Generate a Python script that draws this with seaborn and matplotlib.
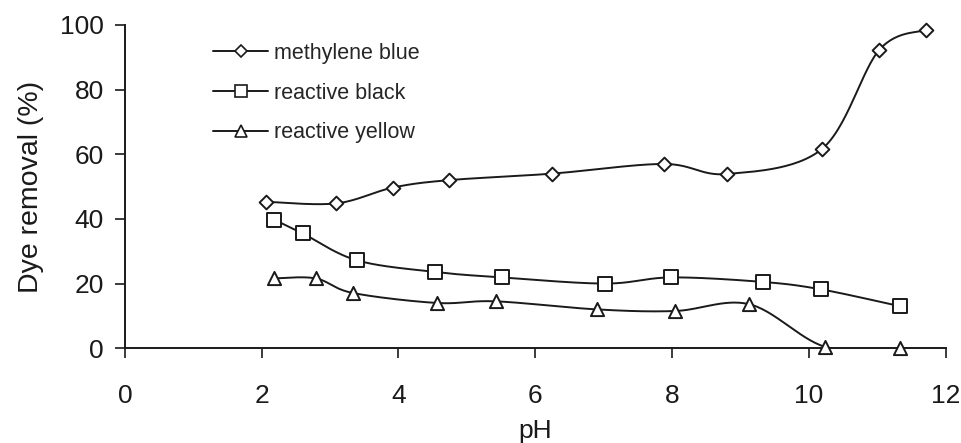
import numpy as np
import pandas as pd
import matplotlib
matplotlib.use("Agg")
import matplotlib.pyplot as plt
from matplotlib.lines import Line2D
import seaborn as sns

# Dye removal versus pH for three dyes
ph_mb = [2.06, 3.09, 3.92, 4.74, 6.24, 7.88, 8.81, 10.19, 11.03, 11.72]
removal_mb = [45.3, 44.8, 49.7, 52.0, 54.0, 57.0, 53.9, 61.6, 92.3, 98.5]

ph_rb = [2.18, 2.60, 3.39, 4.53, 5.51, 7.02, 7.99, 9.33, 10.18, 11.33]
removal_rb = [39.8, 35.5, 27.2, 23.6, 21.9, 20.0, 21.9, 20.5, 18.2, 13.0]

ph_ry = [2.18, 2.79, 3.33, 4.56, 5.42, 6.90, 8.04, 9.13, 10.24, 11.33]
removal_ry = [21.6, 21.6, 17.1, 14.0, 14.5, 12.0, 11.5, 13.6, 0.4, 0.0]

series_names = ["methylene blue", "reactive black", "reactive yellow"]
series_markers = ["D", "s", "^"]
series_sizes = [7.0, 9.5, 9.5]
xticks = [0, 2, 4, 6, 8, 10, 12]
yticks = [0, 20, 40, 60, 80, 100]


def smooth_curve(x, y, n=30):
    """Bezier-smoothed curve through the points (Catmull-Rom style)."""
    x = np.asarray(x, float)
    y = np.asarray(y, float)
    pts = np.column_stack([x, y])
    out = []
    m = len(pts)
    for i in range(m - 1):
        p0 = pts[max(i - 1, 0)]
        p1 = pts[i]
        p2 = pts[i + 1]
        p3 = pts[min(i + 2, m - 1)]
        c1 = p1 + (p2 - p0) / 6.0
        c2 = p2 - (p3 - p1) / 6.0
        t = np.linspace(0, 1, n, endpoint=(i == m - 2))[:, None]
        seg = ((1 - t) ** 3) * p1 + 3 * ((1 - t) ** 2) * t * c1 \
            + 3 * (1 - t) * t ** 2 * c2 + t ** 3 * p2
        out.append(seg)
    out = np.vstack(out)
    return out[:, 0], out[:, 1]


sns.set_theme(style="ticks")
plt.rcParams["font.family"] = ["Liberation Sans", "DejaVu Sans"]

fig = plt.figure(figsize=(9.61, 4.43), dpi=100)
ax = fig.add_axes([0.130, 0.214, 0.854, 0.7296])

data = [(ph_mb, removal_mb), (ph_rb, removal_rb), (ph_ry, removal_ry)]
handles = []
for (xs, ys), name, mk, ms in zip(data, series_names, series_markers, series_sizes):
    sx, sy = smooth_curve(xs, ys)
    curve = pd.DataFrame({"pH": sx, "removal": sy})
    sns.lineplot(data=curve, x="pH", y="removal", sort=False, estimator=None,
                 color="#1a1a1a", linewidth=1.4, ax=ax, zorder=2)
    pts = pd.DataFrame({"pH": xs, "removal": ys})
    sns.scatterplot(data=pts, x="pH", y="removal", marker=mk, s=ms ** 2,
                    facecolor="white", edgecolor="#1a1a1a", linewidth=1.4,
                    ax=ax, zorder=3, clip_on=False)
    handles.append(Line2D([], [], color="#1a1a1a", linewidth=1.4, marker=mk,
                          markersize=ms * 0.9, markerfacecolor="white",
                          markeredgecolor="#1a1a1a", markeredgewidth=1.2,
                          label=name))

ax.set_xlim(0, 12)
ax.set_ylim(0, 100)
ax.set_xticks(xticks)
ax.set_yticks(yticks)
ax.tick_params(axis="both", direction="out", length=7, width=1.2,
               labelsize=19, colors="#1a1a1a")
ax.tick_params(axis="y", pad=8)
ax.tick_params(axis="x", pad=19)
ax.set_xlabel("pH", fontsize=19, color="#1a1a1a", labelpad=8)
ax.set_ylabel("Dye removal (%)", fontsize=20.5, color="#1a1a1a", labelpad=12)
for side in ["top", "right"]:
    ax.spines[side].set_visible(False)
for side in ["left", "bottom"]:
    ax.spines[side].set_color("#1a1a1a")
    ax.spines[side].set_linewidth(1.4)

ax.legend(handles=handles, loc="upper left", bbox_to_anchor=(0.222, 0.903),
          bbox_transform=fig.transFigure, frameon=False, fontsize=15.5,
          handlelength=2.55, handletextpad=0.28, labelspacing=0.87,
          borderaxespad=0, borderpad=0)

fig.savefig("out.png", dpi=100, facecolor="white")
